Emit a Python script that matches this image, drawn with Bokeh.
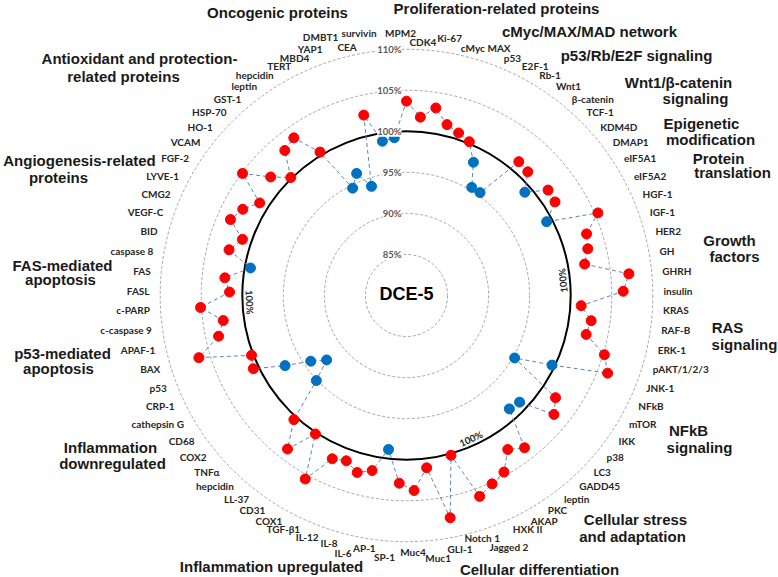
import math
from bokeh.plotting import figure
from bokeh.models import Range1d, Label
from bokeh.embed import file_html
from bokeh.resources import INLINE
from bokeh.core.properties import value

# ---------------- data ----------------
genes = ["MPM2", "CDK4", "Ki-67", "cMyc", "MAX", "p53", "E2F-1", "Rb-1", "Wnt1", "β-catenin",
         "TCF-1", "KDM4D", "DMAP1", "eIF5A1", "eIF5A2", "HGF-1", "IGF-1", "HER2", "GH", "GHRH",
         "insulin", "KRAS", "RAF-B", "ERK-1", "pAKT/1/2/3", "JNK-1", "NFkB", "mTOR", "IKK", "p38",
         "LC3", "GADD45", "leptin", "PKC", "AKAP", "HXK II", "Jagged 2", "Notch 1", "GLI-1", "Muc1",
         "Muc4", "SP-1", "AP-1", "IL-6", "IL-8", "IL-12", "TGF-β1", "COX1", "CD31", "LL-37",
         "hepcidin", "TNFα", "COX2", "CD68", "cathepsin G", "CRP-1", "p53", "BAX", "APAF-1", "c-caspase 9",
         "c-PARP", "FASL", "FAS", "caspase 8", "BID", "VEGF-C", "CMG2", "LYVE-1", "FGF-2", "VCAM",
         "HO-1", "HSP-70", "GST-1", "leptin", "hepcidin", "TERT", "MBD4", "YAP1", "DMBT1", "CEA",
         "survivin"]

values = [103.67, 101.79, 103.12, 101.39, 100.79, 100.23, 98.16, 95.38, 95.40, 101.28,
          101.10, 99.13, 101.50, 101.38, 99.29, 105.39, 103.18, 102.80, 102.03, 107.21,
          106.40, 101.31, 102.70, 102.39, 105.16, 106.26, 99.65, 95.21, 102.01, 103.07,
          98.93, 98.65, 103.47, 102.45, 104.57, 105.20, 106.04, 100.20, 107.59, 101.13,
          103.77, 102.88, 98.88, 101.73, 102.38, 101.43, 101.85, 105.53, 100.19, 103.66,
          100.41, 95.10, 92.50, 94.14, 97.08, 100.68, 100.23, 106.40, 103.42, 102.53,
          105.13, 101.56, 102.23, 99.30, 102.32, 101.12, 103.35, 102.54, 101.14, 104.90,
          101.96, 100.13, 103.06, 103.60, 100.40, 94.63, 96.06, 93.96, 102.58, 99.02,
          99.27]

rings = [85, 90, 95, 100, 105, 110]
ring_labels = ["85%", "90%", "95%", "100%", "105%", "110%"]
chart_title = "DCE-5"

# group titles (one entry per text line) with page-pixel centre positions
group_lines = [
    ("Oncogenic proteins", 277, 12),
    ("Proliferation-related proteins", 496, 8),
    ("cMyc/MAX/MAD network", 589, 31),
    ("p53/Rb/E2F signaling", 636, 55),
    ("Wnt1/β-catenin", 678, 82),
    ("signaling", 695, 98),
    ("Epigenetic", 701, 123),
    ("modification", 710, 139),
    ("Protein", 718, 158),
    ("translation", 732, 172),
    ("Growth", 729, 240),
    ("factors", 734, 256),
    ("RAS", 727, 327),
    ("signaling", 744, 344),
    ("NFkB", 688, 430),
    ("signaling", 699, 447),
    ("Cellular stress", 635, 519),
    ("and adaptation", 632, 536),
    ("Cellular differentiation", 539, 569),
    ("Inflammation upregulated", 271, 566),
    ("Inflammation", 110, 447),
    ("downregulated", 112, 463),
    ("p53-mediated", 62, 353),
    ("apoptosis", 58, 368),
    ("FAS-mediated", 62, 265),
    ("apoptosis", 60, 279),
    ("Angiogenesis-related", 79, 160),
    ("proteins", 58, 177),
    ("Antioxidant and protection-", 139, 58),
    ("related proteins", 123, 76),
]

# ---------------- layout ----------------
W, H = 778, 577
CXP, CYP = 406, 295          # position of the chart centre in the picture
BASE = 80.0                  # value at the centre
PX = 8.21                    # pixels per percent
LABEL_R = 257                # radius of category labels (px)
label_nudge = {0: (-6, -6), 1: (-17, 3), 2: (-9, -4), 3: (-5, 3), 4: (2.5, -3),
               80: (-10, -6), 79: (-10, 5), 78: (-9, -8), 77: (-5.5, -2),
               36: (-5, 9.5), 37: (-11, -4.6), 38: (-8.5, 1), 39: (-11, 7), 40: (-3.5, 0),
               41: (-12, 5), 42: (-1, -3), 43: (-5.5, 5)}

def px(X):
    return X - CXP

def py(Y):
    return CYP - Y

p = figure(width=W, height=H, output_backend="svg", toolbar_location=None,
           x_range=Range1d(-CXP, W - CXP), y_range=Range1d(CYP - H, CYP),
           x_axis_type=None, y_axis_type=None, min_border=0)
p.grid.visible = False
p.outline_line_color = None
p.background_fill_color = "white"

# rings
for rv in rings:
    r = (rv - BASE) * PX
    if rv == 100:
        p.circle(x=[0], y=[0], radius=[r], fill_alpha=0, line_color="black", line_width=2)
    else:
        p.circle(x=[0], y=[0], radius=[r], fill_alpha=0, line_color="#A6A6A6",
                 line_width=1, line_dash="3 2")

N = len(genes)
theta = [2 * math.pi * i / N for i in range(N)]
rad = [(v - BASE) * PX for v in values]
xs = [r * math.sin(t) for r, t in zip(rad, theta)]
ys = [r * math.cos(t) for r, t in zip(rad, theta)]
colors = ["#FF0000" if v >= 100 else "#0070C0" for v in values]

p.line(xs + xs[:1], ys + ys[:1], line_color="#5A85C0", line_width=1, line_dash="4 3")
p.scatter(xs, ys, size=10, fill_color=colors, line_color=colors)

# ring labels
for rv, txt in zip(rings, ring_labels):
    r = (rv - BASE) * PX
    p.add_layout(Label(x=-5, y=r, text=txt, text_align="right", text_baseline="middle",
                       text_font="Lato", text_font_style="bold", text_font_size="9.5px",
                       text_color="#595959", background_fill_color="white"))

# rotated 100% labels on the black circle
r100 = (100 - BASE) * PX - 7
for deg in [84.5, 155.7, 267.5]:
    t = math.radians(deg)
    p.add_layout(Label(x=r100 * math.sin(t), y=r100 * math.cos(t), text="100%",
                       text_align="center", text_baseline="middle",
                       angle=math.radians(180 - deg),
                       text_font="Lato", text_font_style="bold", text_font_size="9.5px",
                       text_color="#262626"))

# category labels
groups_by_align = {"left": ([], [], []), "right": ([], [], []), "center": ([], [], [])}
for i, (g, t) in enumerate(zip(genes, theta)):
    s = math.sin(t)
    align = "left" if s > 0.06 else ("right" if s < -0.06 else "center")
    lx = LABEL_R * s
    ly = LABEL_R * math.cos(t)
    dx, dy = label_nudge.get(i, (0, 0))
    gx, gy, gt = groups_by_align[align]
    gx.append(lx + dx)
    gy.append(ly - dy)
    gt.append(g)
for align, (gx, gy, gt) in groups_by_align.items():
    p.text(x=gx, y=gy, text=gt, text_align=align, text_baseline="middle",
           text_font=value("Lato"), text_font_style="bold", text_font_size="10px",
           text_color="#262626")

# group titles
p.text(x=[px(g[1]) for g in group_lines], y=[py(g[2]) for g in group_lines],
       text=[g[0] for g in group_lines], text_align="center", text_baseline="middle",
       text_font=value("Liberation Sans"), text_font_style="bold", text_font_size="15px",
       text_color="#1A1A1A")

# centre title
p.text(x=[0], y=[2], text=[chart_title], text_align="center", text_baseline="middle",
       text_font=value("Liberation Sans"), text_font_style="bold", text_font_size="18px",
       text_color="black")

open("out.html", "w").write(file_html(p, INLINE))
